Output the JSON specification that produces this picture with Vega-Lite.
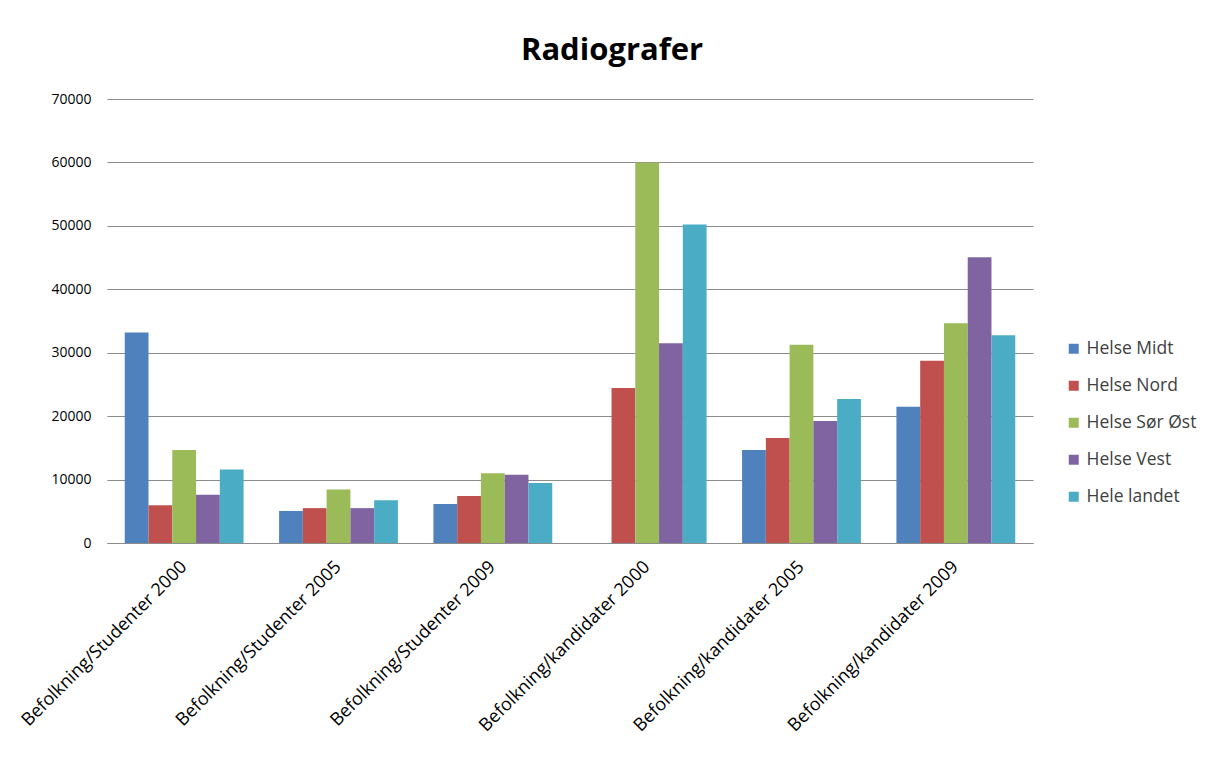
{
  "$schema": "https://vega.github.io/schema/vega-lite/v6.json",
  "autosize": "none",
  "width": 926,
  "height": 444,
  "padding": {"left": 107, "top": 99, "right": 172, "bottom": 220},
  "background": "white",
  "title": {
    "text": "Radiografer",
    "font": "Open Sans",
    "fontSize": 31,
    "fontWeight": "bold",
    "color": "#000000",
    "anchor": "middle",
    "dx": 42,
    "offset": 25
  },
  "data": {
    "values": [
      {"kategori": "Befolkning/Studenter 2000", "region": "Helse Midt", "verdi": 33200},
      {"kategori": "Befolkning/Studenter 2000", "region": "Helse Nord", "verdi": 5950},
      {"kategori": "Befolkning/Studenter 2000", "region": "Helse Sør Øst", "verdi": 14650},
      {"kategori": "Befolkning/Studenter 2000", "region": "Helse Vest", "verdi": 7600},
      {"kategori": "Befolkning/Studenter 2000", "region": "Hele  landet", "verdi": 11600},
      {"kategori": "Befolkning/Studenter 2005", "region": "Helse Midt", "verdi": 5050},
      {"kategori": "Befolkning/Studenter 2005", "region": "Helse Nord", "verdi": 5500},
      {"kategori": "Befolkning/Studenter 2005", "region": "Helse Sør Øst", "verdi": 8450},
      {"kategori": "Befolkning/Studenter 2005", "region": "Helse Vest", "verdi": 5500},
      {"kategori": "Befolkning/Studenter 2005", "region": "Hele  landet", "verdi": 6750},
      {"kategori": "Befolkning/Studenter 2009", "region": "Helse Midt", "verdi": 6150},
      {"kategori": "Befolkning/Studenter 2009", "region": "Helse Nord", "verdi": 7400},
      {"kategori": "Befolkning/Studenter 2009", "region": "Helse Sør Øst", "verdi": 11000},
      {"kategori": "Befolkning/Studenter 2009", "region": "Helse Vest", "verdi": 10750},
      {"kategori": "Befolkning/Studenter 2009", "region": "Hele  landet", "verdi": 9450},
      {"kategori": "Befolkning/kandidater 2000", "region": "Helse Nord", "verdi": 24450},
      {"kategori": "Befolkning/kandidater 2000", "region": "Helse Sør Øst", "verdi": 60000},
      {"kategori": "Befolkning/kandidater 2000", "region": "Helse Vest", "verdi": 31500},
      {"kategori": "Befolkning/kandidater 2000", "region": "Hele  landet", "verdi": 50200},
      {"kategori": "Befolkning/kandidater 2005", "region": "Helse Midt", "verdi": 14650},
      {"kategori": "Befolkning/kandidater 2005", "region": "Helse Nord", "verdi": 16550},
      {"kategori": "Befolkning/kandidater 2005", "region": "Helse Sør Øst", "verdi": 31250},
      {"kategori": "Befolkning/kandidater 2005", "region": "Helse Vest", "verdi": 19250},
      {"kategori": "Befolkning/kandidater 2005", "region": "Hele  landet", "verdi": 22700},
      {"kategori": "Befolkning/kandidater 2009", "region": "Helse Midt", "verdi": 21500},
      {"kategori": "Befolkning/kandidater 2009", "region": "Helse Nord", "verdi": 28750},
      {"kategori": "Befolkning/kandidater 2009", "region": "Helse Sør Øst", "verdi": 34650},
      {"kategori": "Befolkning/kandidater 2009", "region": "Helse Vest", "verdi": 45050},
      {"kategori": "Befolkning/kandidater 2009", "region": "Hele  landet", "verdi": 32750}
    ]
  },
  "mark": {"type": "bar"},
  "encoding": {
    "x": {
      "field": "kategori",
      "type": "nominal",
      "sort": null,
      "scale": {"paddingInner": 0.23, "paddingOuter": 0.115},
      "axis": {
        "title": null,
        "labelAngle": -45,
        "labelAlign": "right",
        "labelBaseline": "middle",
        "labelFont": "Open Sans",
        "labelFontSize": 18,
        "labelColor": "#000000",
        "labelPadding": 21,
        "ticks": false,
        "domain": true,
        "domainColor": "#8c8c8c",
        "labelLimit": 400
      }
    },
    "xOffset": {
      "field": "region",
      "type": "nominal",
      "sort": ["Helse Midt", "Helse Nord", "Helse Sør Øst", "Helse Vest", "Hele  landet"],
      "scale": {"paddingInner": 0, "paddingOuter": 0}
    },
    "y": {
      "field": "verdi",
      "type": "quantitative",
      "scale": {"domain": [0, 70000], "nice": false},
      "axis": {
        "title": null,
        "values": [0, 10000, 20000, 30000, 40000, 50000, 60000, 70000],
        "format": "d",
        "ticks": false,
        "domain": false,
        "labelFont": "Open Sans",
        "labelFontSize": 14,
        "labelColor": "#000000",
        "labelPadding": 16,
        "grid": true,
        "gridColor": "#8c8c8c",
        "gridWidth": 1
      }
    },
    "color": {
      "field": "region",
      "type": "nominal",
      "sort": ["Helse Midt", "Helse Nord", "Helse Sør Øst", "Helse Vest", "Hele  landet"],
      "scale": {
        "domain": ["Helse Midt", "Helse Nord", "Helse Sør Øst", "Helse Vest", "Hele  landet"],
        "range": ["#4F81BD", "#C0504D", "#9BBB59", "#8064A2", "#4BACC6"]
      },
      "legend": {
        "title": null,
        "orient": "none",
        "legendX": 958,
        "legendY": 241,
        "symbolType": "square",
        "symbolSize": 100,
        "symbolStrokeWidth": 0,
        "labelFont": "Open Sans",
        "labelFontSize": 17.5,
        "labelColor": "#404040",
        "labelOffset": 4,
        "rowPadding": 18
      }
    }
  },
  "config": {
    "view": {"stroke": null}
  }
}
